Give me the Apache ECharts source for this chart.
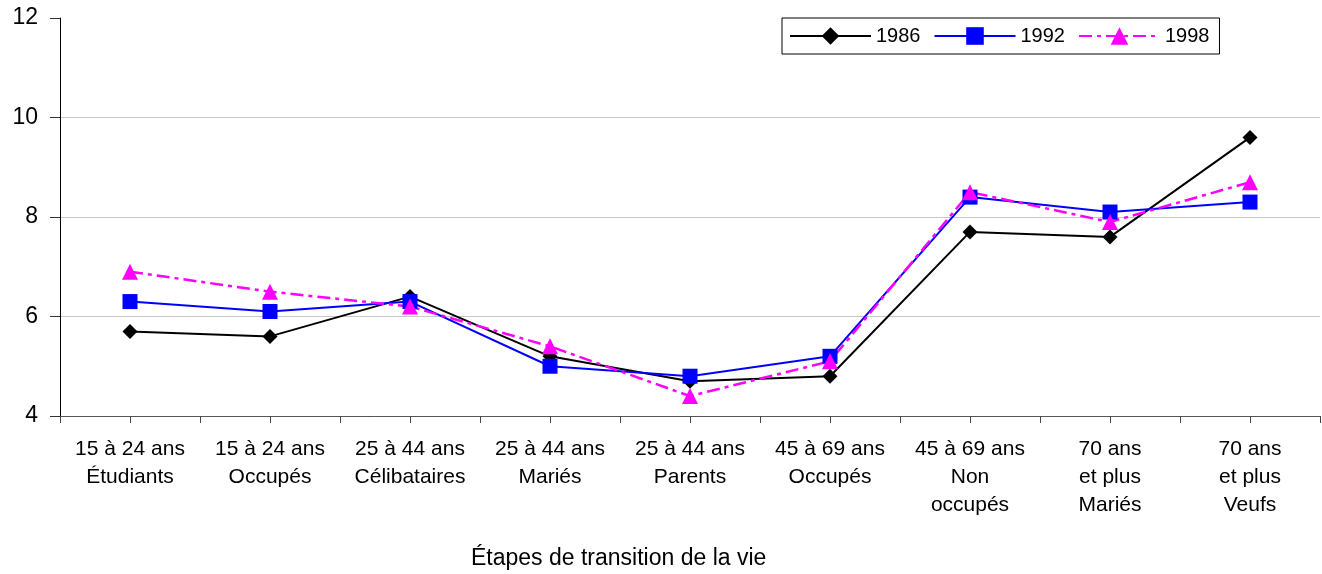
<!DOCTYPE html>
<html>
<head>
<meta charset="utf-8">
<title>Étapes de transition de la vie</title>
<script src="https://cdn.jsdelivr.net/npm/echarts@6/dist/echarts.min.js"></script>
<style>
  html, body { margin: 0; padding: 0; background: #fff; }
  #chart { width: 1322px; height: 574px; }
</style>
</head>
<body>
<div id="chart"></div>
<script>
// Life-stage categories (x axis)
const categories = [
  '15 à 24 ans\nÉtudiants',
  '15 à 24 ans\nOccupés',
  '25 à 44 ans\nCélibataires',
  '25 à 44 ans\nMariés',
  '25 à 44 ans\nParents',
  '45 à 69 ans\nOccupés',
  '45 à 69 ans\nNon\noccupés',
  '70 ans\net plus\nMariés',
  '70 ans\net plus\nVeufs'
];

// Values per survey year
const values1986 = [5.7, 5.6, 6.4, 5.2, 4.7, 4.8, 7.7, 7.6, 9.6];
const values1992 = [6.3, 6.1, 6.3, 5.0, 4.8, 5.2, 8.4, 8.1, 8.3];
const values1998 = [6.9, 6.5, 6.2, 5.4, 4.4, 5.1, 8.5, 7.9, 8.7];

const seriesNames = ['1986', '1992', '1998'];
const axisTitle = 'Étapes de transition de la vie';

// Tick positions at both category boundaries and centres
const halfSlots = [];
for (let i = 0; i < categories.length * 2; i++) halfSlots.push('');

const FONT = "Arial, 'Liberation Sans', sans-serif";

const chart = echarts.init(document.getElementById('chart'), null, { renderer: 'canvas' });

chart.setOption({
  animation: false,
  backgroundColor: '#ffffff',
  textStyle: { fontFamily: FONT, color: '#000' },
  grid: { left: 60, right: 2, top: 18, bottom: 158, containLabel: false },
  legend: {
    data: seriesNames,
    left: 782,
    top: 18,
    orient: 'horizontal',
    borderColor: '#000',
    borderWidth: 1,
    padding: [8, 10, 8, 7],
    itemGap: 13,
    itemWidth: 81,
    itemHeight: 22,
    lineStyle: { width: 2 },
    textStyle: { fontSize: 20, color: '#000', fontFamily: FONT }
  },
  xAxis: [
    {
      type: 'category',
      data: categories,
      boundaryGap: true,
      axisLine: { show: true, lineStyle: { color: '#555', width: 1 } },
      axisTick: { show: false },
      axisLabel: {
        interval: 0,
        fontSize: 21,
        lineHeight: 28,
        margin: 19,
        color: '#000',
        fontFamily: FONT,
        align: 'center'
      },
      splitLine: { show: false }
    },
    {
      type: 'category',
      data: halfSlots,
      position: 'bottom',
      boundaryGap: true,
      axisLine: { show: false },
      axisLabel: { show: false },
      axisTick: { show: true, interval: 0, length: 7, lineStyle: { color: '#444', width: 1 } },
      splitLine: { show: false }
    }
  ],
  yAxis: {
    type: 'value',
    min: 4,
    max: 12,
    interval: 2,
    axisLine: { show: true, lineStyle: { color: '#000', width: 1 } },
    axisTick: { show: true, length: 10, lineStyle: { color: '#333', width: 1 } },
    axisLabel: { fontSize: 23, margin: 22, color: '#000', fontFamily: FONT },
    splitLine: {
      show: true,
      showMaxLine: false,
      lineStyle: { color: '#c8c8c8', width: 1 }
    }
  },
  graphic: [
    {
      type: 'text',
      left: 471,
      top: 547,
      style: {
        text: axisTitle,
        fontSize: 23,
        fontFamily: FONT,
        fill: '#000'
      }
    }
  ],
  series: [
    {
      name: '1986',
      type: 'line',
      data: values1986,
      symbol: 'diamond',
      symbolSize: 15,
      showAllSymbol: true,
      itemStyle: { color: '#000000' },
      lineStyle: { color: '#000000', width: 2 }
    },
    {
      name: '1992',
      type: 'line',
      data: values1992,
      symbol: 'rect',
      symbolSize: 15,
      showAllSymbol: true,
      itemStyle: { color: '#0000ff' },
      lineStyle: { color: '#0000ff', width: 2 }
    },
    {
      name: '1998',
      type: 'line',
      data: values1998,
      symbol: 'triangle',
      symbolSize: 16,
      showAllSymbol: true,
      itemStyle: { color: '#ff00ff' },
      lineStyle: { color: '#ff00ff', width: 2.5, type: [13, 5, 4, 5] }
    }
  ]
});
</script>
</body>
</html>
